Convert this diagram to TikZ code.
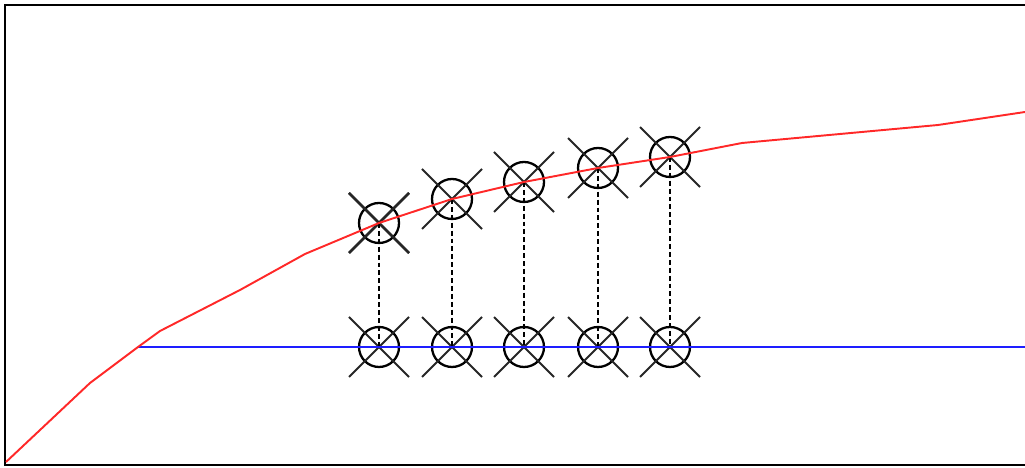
\documentclass[tikz,border=0pt]{standalone}
\usepackage{xcolor}
\usetikzlibrary{calc}
\definecolor{curvered}{RGB}{255, 40, 40}
\definecolor{levelblue}{RGB}{30, 30, 255}

\begin{document}
\begin{tikzpicture}[
    marker/.style={circle, draw=black, line width=1.3pt, minimum size=0.8cm, inner sep=0pt},
    crossline/.style={draw=black!85, line width=1.1pt},
    link/.style={dashed, dash pattern=on 2.8pt off 1.7pt, line width=1pt},
    curve/.style={curvered, line width=1.1pt},
    level/.style={levelblue, line width=1.1pt}
]
    \useasboundingbox (0,0) rectangle (20.5,9.36);

    % Frame
    \draw[line width=1.3pt] (20.6,9.26) -- (0.1,9.26) -- (0.1,0.06) -- (20.6,0.06);

    % Markers
    \node[marker] (t1) at (7.58,4.90) {};
    \node[marker] (t2) at (9.04,5.38) {};
    \node[marker] (t3) at (10.48,5.72) {};
    \node[marker] (t4) at (11.96,6.00) {};
    \node[marker] (t5) at (13.40,6.22) {};
    \node[marker] (b1) at (7.58,2.42) {};
    \node[marker] (b2) at (9.04,2.42) {};
    \node[marker] (b3) at (10.48,2.42) {};
    \node[marker] (b4) at (11.96,2.42) {};
    \node[marker] (b5) at (13.40,2.42) {};

    % Crosses
    \foreach \m in {t1,t2,t3,t4,t5,b1,b2,b3,b4,b5} {
        \draw[crossline] ($(\m)+(-0.6,0.6)$) -- ($(\m)+(0.6,-0.6)$);
        \draw[crossline] ($(\m)+(-0.6,-0.6)$) -- ($(\m)+(0.6,0.6)$);
    }
    \draw[crossline, line width=1.5pt] ($(t1)+(-0.6,0.6)$) -- ($(t1)+(0.6,-0.6)$);
    \draw[crossline, line width=1.5pt] ($(t1)+(-0.6,-0.6)$) -- ($(t1)+(0.6,0.6)$);

    % Links
    \foreach \i in {1,...,5} {
        \draw[link] (t\i.center) -- (b\i.center);
    }

    % Curves
    \coordinate (start) at (2.76,2.42);
    \coordinate (finish) at (20.5,2.42);
    \draw[level] (start) -- (finish);
    \draw[curve] (0.12,0.12) -- (1.80,1.70) -- (start) -- (3.20,2.74) -- (4.80,3.56)
        -- (6.10,4.28) -- (t1.center) -- (t2.center) -- (t3.center) -- (t4.center)
        -- (t5.center) -- (14.84,6.50) -- (18.76,6.86) -- (20.5,7.12);

\end{tikzpicture}
\end{document}
